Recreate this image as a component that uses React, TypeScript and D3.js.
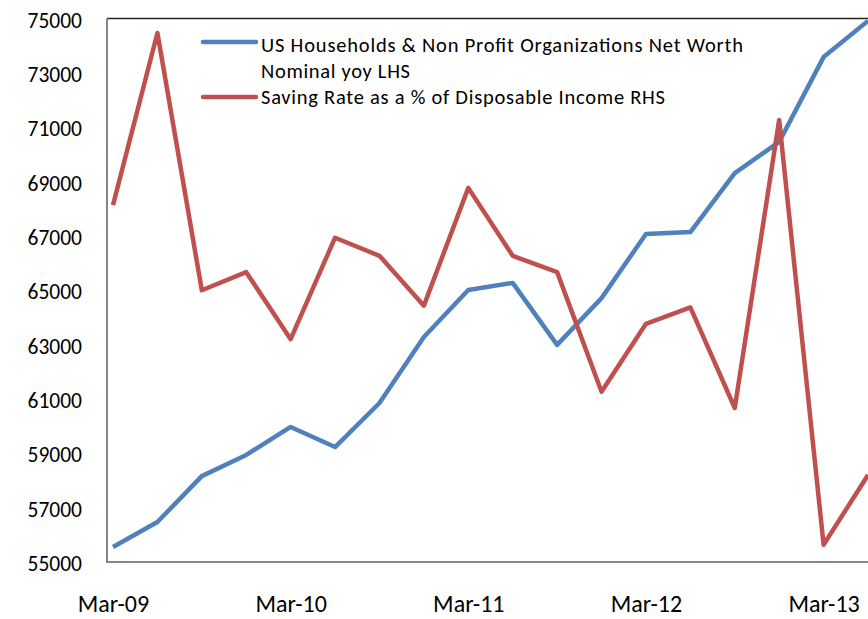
import React, { useEffect, useRef } from "react";
import * as d3 from "d3";

const quarters = [
  "Mar-09", "Jun-09", "Sep-09", "Dec-09",
  "Mar-10", "Jun-10", "Sep-10", "Dec-10",
  "Mar-11", "Jun-11", "Sep-11", "Dec-11",
  "Mar-12", "Jun-12", "Sep-12", "Dec-12",
  "Mar-13", "Jun-13"
];
const netWorth = [
  55550, 56470, 58160, 58940, 59970, 59230, 60850, 63280, 65010,
  65270, 62990, 64710, 67070, 67140, 69310, 70460, 73580, 74910
];
const savingRate = [
  5.94, 7.84, 5.0, 5.2, 4.46, 5.58, 5.38, 4.83, 6.13,
  5.38, 5.2, 3.88, 4.63, 4.81, 3.7, 6.88, 2.19, 2.96
];
const leftTicks = d3.range(55000, 75001, 2000);
const xLabels = ["Mar-09", "Mar-10", "Mar-11", "Mar-12", "Mar-13"];
const legendLabels = [
  ["US Households & Non Profit Organizations Net Worth", "Nominal yoy LHS"],
  ["Saving Rate as a % of Disposable Income RHS"]
];

const W = 868;
const H = 619;
const FONT = "Carlito, Lato, 'Open Sans', sans-serif";
const BLUE = "#4F81BD";
const RED = "#C0504D";

export default function App() {
  const ref = useRef<SVGSVGElement>(null);

  useEffect(() => {
    const svg = d3.select(ref.current);
    svg.selectAll("*").remove();

    const left = 107, top = 18.5, bottom = 562;
    const x = d3.scalePoint<string>().domain(quarters).range([113, 868]);
    const y = d3.scaleLinear().domain([55000, 75000]).range([bottom, top]);
    const y2 = d3.scaleLinear().domain([2, 8]).range([bottom, top]);

    // left axis labels
    const ga = svg.append("g").attr("transform", `translate(${left},0)`)
      .call(d3.axisLeft(y).tickValues(leftTicks).tickSize(0).tickPadding(25).tickFormat(d3.format("d")));
    ga.select(".domain").remove();
    ga.selectAll("text").attr("font-family", FONT).attr("font-size", 21.5).attr("fill", "#000").attr("dy", "0.4em");

    // bottom labels
    const gb = svg.append("g").attr("transform", `translate(0,${bottom})`)
      .call(d3.axisBottom(x).tickValues(xLabels).tickSize(0).tickPadding(33));
    gb.select(".domain").remove();
    gb.selectAll("text").attr("font-family", FONT).attr("font-size", 24).attr("fill", "#000");

    // frame lines
    svg.append("line").attr("x1", left).attr("x2", W).attr("y1", top).attr("y2", top)
      .attr("stroke", "#222").attr("stroke-width", 1.5);
    svg.append("line").attr("x1", left).attr("x2", left).attr("y1", top).attr("y2", bottom + 1)
      .attr("stroke", "#868686").attr("stroke-width", 2);
    svg.append("line").attr("x1", left).attr("x2", W).attr("y1", bottom).attr("y2", bottom)
      .attr("stroke", "#868686").attr("stroke-width", 2);

    const lineL = d3.line<number>().x((_, i) => x(quarters[i])!).y(d => y(d));
    const lineR = d3.line<number>().x((_, i) => x(quarters[i])!).y(d => y2(d));

    svg.append("path").datum(netWorth).attr("d", lineL).attr("fill", "none")
      .attr("stroke", BLUE).attr("stroke-width", 4.5).attr("stroke-linejoin", "round");
    svg.append("path").datum(savingRate).attr("d", lineR).attr("fill", "none")
      .attr("stroke", RED).attr("stroke-width", 4.5).attr("stroke-linejoin", "round");

    // legend
    const lg = svg.append("g");
    const items = [
      { color: BLUE, y: 42, lines: legendLabels[0], widths: [482, 149], base: 52 },
      { color: RED, y: 97, lines: legendLabels[1], widths: [404], base: 104 }
    ];
    items.forEach(it => {
      lg.append("line").attr("x1", 203).attr("x2", 256).attr("y1", it.y).attr("y2", it.y)
        .attr("stroke", it.color).attr("stroke-width", 4.5).attr("stroke-linecap", "round");
      it.lines.forEach((t, j) => {
        lg.append("text").attr("x", 261).attr("y", it.base + j * 26)
          .attr("font-family", FONT).attr("font-size", 20.5).attr("fill", "#000")
          .attr("textLength", it.widths[j]).attr("lengthAdjust", "spacing").text(t);
      });
    });
  }, []);

  return (
    <div style={{ position: "absolute", left: 0, top: 0 }}>
      <svg ref={ref} width={W} height={H} style={{ display: "block", background: "#fff" }} />
    </div>
  );
}
